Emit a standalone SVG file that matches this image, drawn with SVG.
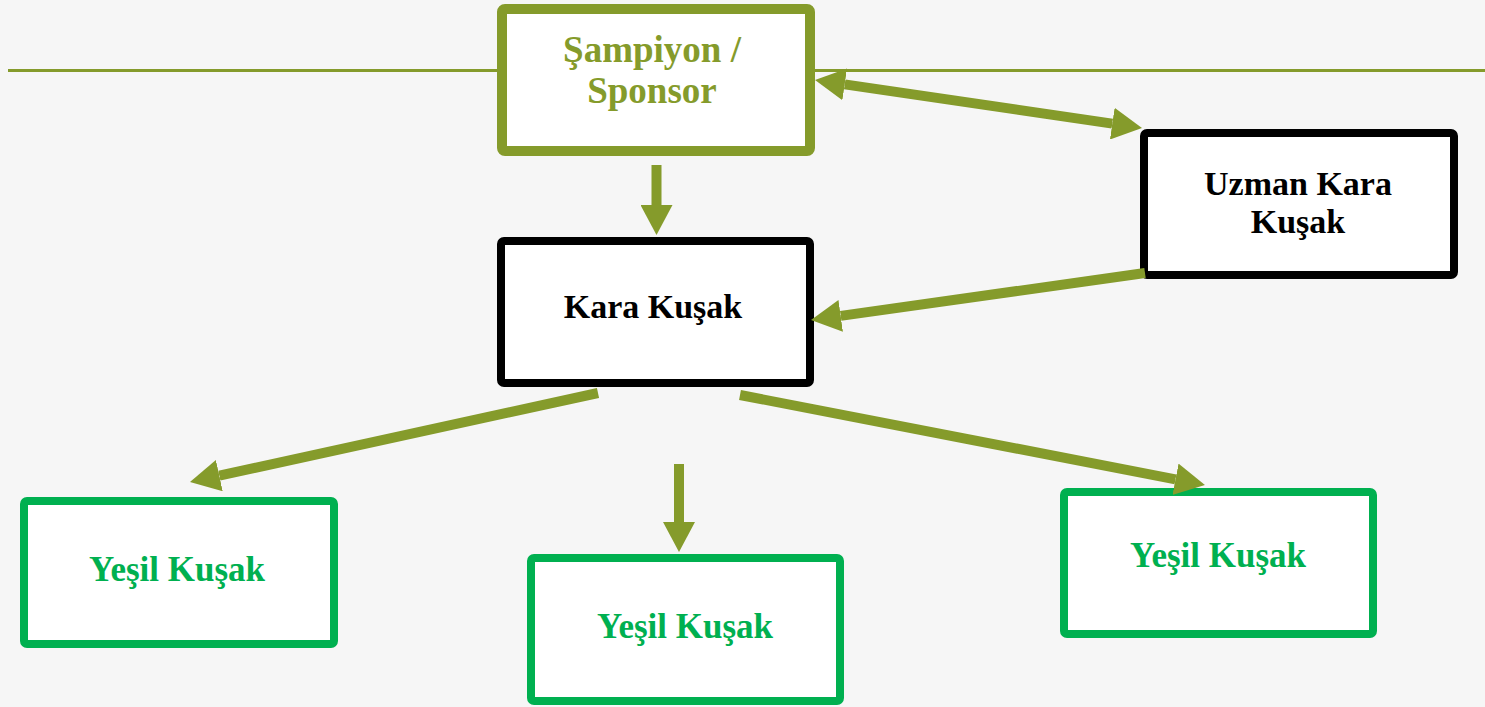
<svg xmlns="http://www.w3.org/2000/svg" width="1485" height="707" viewBox="0 0 1485 707">
<style>
.box{fill:#ffffff;rx:3px}
.olive{stroke:#859b2b;stroke-width:10}
.black{stroke:#000000;stroke-width:8}
.green{stroke:#00b050;stroke-width:8}
text{font-family:"Liberation Serif","Times New Roman",serif;font-weight:bold;text-anchor:middle}
.t-olive{fill:#859b2b;font-size:37px}
.t-black{fill:#000000;font-size:34px}
.t-green{fill:#00b050;font-size:35px}
.conn line{stroke:#859b2b;stroke-width:10;fill:none}
</style>
<defs>
<marker id="ah" markerUnits="strokeWidth" markerWidth="3" markerHeight="3.2" refX="0" refY="1.6" orient="auto">
<path d="M0,0 L3,1.6 L0,3.2 z" fill="#859b2b"/>
</marker>
<marker id="ahs" markerUnits="strokeWidth" markerWidth="3" markerHeight="3.2" refX="0" refY="1.6" orient="auto-start-reverse">
<path d="M0,0 L3,1.6 L0,3.2 z" fill="#859b2b"/>
</marker>
</defs>
<rect x="0" y="0" width="1485" height="707" fill="#f6f6f6"/>
<line x1="8" y1="70.5" x2="1485" y2="70.5" stroke="#859b2b" stroke-width="3"/>

<g id="sampiyon">
<rect class="box olive" x="502" y="9" width="308" height="142"/>
<text class="t-olive" x="652" y="62">Şampiyon /</text>
<text class="t-olive" x="652" y="103">Sponsor</text>
</g>
<g id="uzman">
<rect class="box black" x="1144" y="133" width="310" height="142"/>
<text class="t-black" x="1298" y="195">Uzman Kara</text>
<text class="t-black" x="1298" y="233">Kuşak</text>
</g>
<g id="kara">
<rect class="box black" x="501" y="241" width="309" height="142"/>
<text class="t-black" x="653" y="318">Kara Kuşak</text>
</g>
<g id="yesil1">
<rect class="box green" x="24" y="501" width="310" height="143"/>
<text class="t-green" x="177" y="581">Yeşil Kuşak</text>
</g>
<g id="yesil2">
<rect class="box green" x="531" y="558" width="309" height="143"/>
<text class="t-green" x="685" y="638">Yeşil Kuşak</text>
</g>
<g id="yesil3">
<rect class="box green" x="1064" y="492" width="309" height="142"/>
<text class="t-green" x="1218" y="567">Yeşil Kuşak</text>
</g>

<g class="conn">
<line x1="656.5" y1="165" x2="656.5" y2="205" marker-end="url(#ah)"/>
<line x1="844.7" y1="84.4" x2="1112.3" y2="123.6" marker-start="url(#ahs)" marker-end="url(#ah)"/>
<line x1="1145" y1="273" x2="840.7" y2="315.9" marker-end="url(#ah)"/>
<line x1="598" y1="393" x2="219.3" y2="475.6" marker-end="url(#ah)"/>
<line x1="740" y1="395" x2="1175.5" y2="479.3" marker-end="url(#ah)"/>
<line x1="679" y1="464" x2="679" y2="522" marker-end="url(#ah)"/>
</g>
</svg>
